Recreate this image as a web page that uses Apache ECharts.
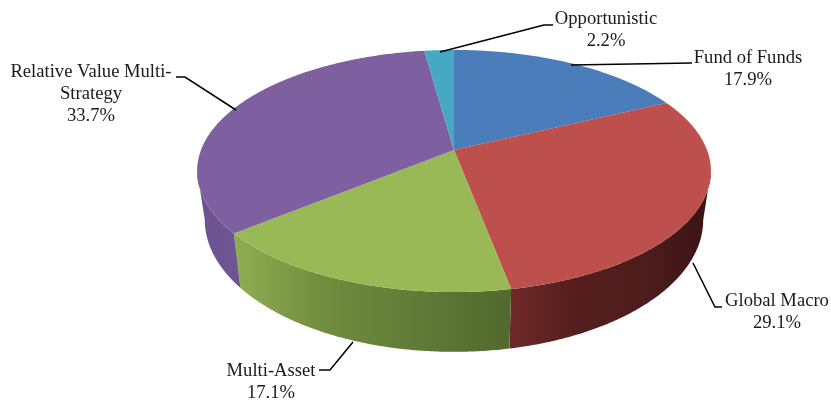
<!DOCTYPE html>
<html>
<head>
<meta charset="utf-8">
<style>
  html, body { margin: 0; padding: 0; background: #fff; }
  #main { width: 831px; height: 400px; }
</style>
<script src="https://cdn.jsdelivr.net/npm/echarts@6/dist/echarts.min.js"></script>
</head>
<body>
<div id="main"></div>
<script>
// chart data, clockwise from 12 o'clock
const categories = ['Fund of Funds', 'Global Macro', 'Multi-Asset', 'Relative Value Multi-Strategy', 'Opportunistic']
const shares = [17.9, 29.1, 17.1, 33.7, 2.2]

// label text split the way the picture wraps it
const labelLines = [['Fund of Funds'], ['Global Macro'], ['Multi-Asset'], ['Relative Value Multi-', 'Strategy'], ['Opportunistic']]

// styles
const topColors = ['#4a7dba', '#bd4f4c', '#98b955', '#7e5f9f', '#46a9c4']
const wallStops = [
  ['#2f4f78', '#2f4f78'],
  ['#6e2828', '#551e1e', '#4e1c1c', '#3a1414'],
  ['#8fae50', '#6f8c3f', '#5f7b37', '#51692d'],
  ['#6b5290', '#6f5594'],
  ['#2c6f80', '#2c6f80']
]
const labelCenters = [[748, 57], [777, 300], [271, 370], [91, 71], [606, 18]]
const leaderLines = [
  [[571, 65], [692, 63]],
  [[693, 263], [715, 307], [722, 307]],
  [[353, 342], [330, 370], [319, 370]],
  [[236, 110], [185, 77], [176, 77]],
  [[440, 52], [544, 25], [553, 25]]
]

// perspective of the tilted disc
const cx = 454
const topCy = 150
const botCy = 197
const rx = 253
const ry = 117.4
const persp = 0.1736
const botScaleX = 0.97
const botScaleY = 1.09
// angle where the side of the disc turns away, past it the wall folds over itself
const silhouette = Math.acos(-persp) * 180 / Math.PI

const total = shares.reduce((a, b) => a + b, 0)

function sliceAngles(i) {
  const before = shares.slice(0, i).reduce((a, b) => a + b, 0)
  return [before / total * 360, (before + shares[i]) / total * 360]
}

function project(deg, cy, sx, sy) {
  const t = deg * Math.PI / 180
  const u = Math.sin(t)
  const v = -Math.cos(t)
  const d = 1 - persp * v
  return [cx + sx * rx * u / d, cy + sy * ry * v / d]
}

function arc(from, to, cy, sx, sy) {
  const pts = []
  const n = Math.max(2, Math.ceil((to - from) * 2))
  for (let k = 0; k <= n; k++) {
    pts.push(project(from + (to - from) * k / n, cy, sx, sy))
  }
  return pts
}

function renderWall(params) {
  const i = params.dataIndex
  const [a, b] = sliceAngles(i)
  const from = Math.max(a, silhouette)
  const to = Math.min(b, 360 - silhouette)
  if (to <= from) return { type: 'group', children: [] }
  const stops = wallStops[i].map((c, k, arr) => ({ offset: k / (arr.length - 1), color: c }))
  return {
    type: 'polygon',
    shape: { points: arc(from, to, topCy, 1, 1).concat(arc(from, to, botCy, botScaleX, botScaleY).reverse()) },
    style: { fill: new echarts.graphic.LinearGradient(0, 0, 1, 0, stops) }
  }
}

function renderTop(params) {
  const i = params.dataIndex
  const [a, b] = sliceAngles(i)
  return {
    type: 'polygon',
    shape: { points: [[cx, topCy]].concat(arc(a, b, topCy, 1, 1)) },
    style: { fill: topColors[i] }
  }
}

function renderLabel(params) {
  const i = params.dataIndex
  const lines = labelLines[i].concat(shares[i].toFixed(1) + '%')
  const [x, y] = labelCenters[i]
  return {
    type: 'group',
    children: [
      {
        type: 'polyline',
        shape: { points: leaderLines[i] },
        style: { stroke: '#000', lineWidth: 1.5, fill: null }
      },
      {
        type: 'text',
        x: x,
        y: y - 10,
        style: {
          text: lines.join('\n'),
          fill: '#1a1a1a',
          font: '18.6px "Liberation Serif"',
          lineHeight: 22,
          align: 'center',
          verticalAlign: 'top'
        }
      }
    ]
  }
}

const seriesData = categories.map((name, i) => ({ name: name, value: shares[i] }))

const myChart = echarts.init(document.getElementById('main'))
myChart.setOption({
  animation: false,
  backgroundColor: '#fff',
  series: [
    { type: 'custom', coordinateSystem: 'none', z: 1, silent: true, data: seriesData, renderItem: renderWall },
    { type: 'custom', coordinateSystem: 'none', z: 2, silent: true, data: seriesData, renderItem: renderTop },
    { type: 'custom', coordinateSystem: 'none', z: 3, silent: true, data: seriesData, renderItem: renderLabel }
  ]
})
</script>
</body>
</html>
